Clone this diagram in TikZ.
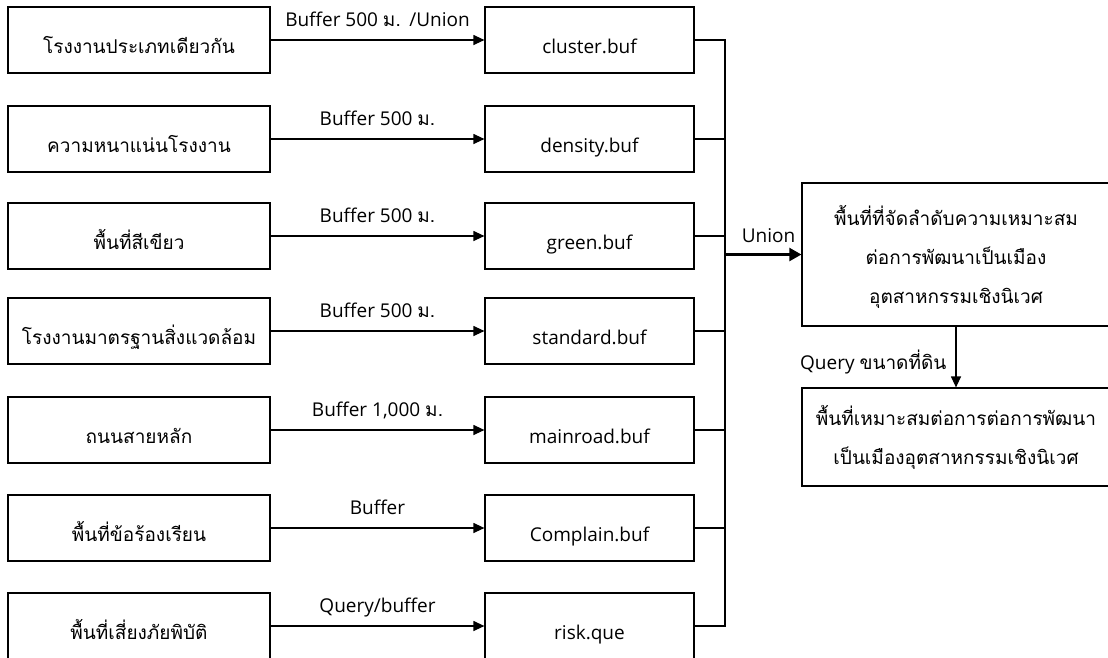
\documentclass[tikz,border=0pt]{standalone}
\usepackage{fontspec}
\setmainfont[Script=Thai]{Loma}
\newfontfamily\lat{Open Sans}
\usetikzlibrary{arrows.meta}

\begin{document}
\begin{tikzpicture}[x=1pt, y=-1pt,
  box/.style={draw, line width=1.2pt, minimum width=262pt, minimum height=66pt, inner sep=0pt, text height=30pt, text depth=4pt, font=\fontsize{19}{23}\selectfont},
  file/.style={box, minimum width=209pt},
  res/.style={draw, line width=1.2pt, minimum width=308pt, align=center, inner sep=0pt, font=\fontsize{19}{39}\selectfont},
  lbl/.style={font=\fontsize{19}{23}\selectfont, inner sep=0pt, text height=14pt, text depth=0pt},
  >={Triangle[length=11pt,width=10pt]}]
\useasboundingbox (0,0) rectangle (1108,657);

\node[box] (a1) at (139,40) {โรงงานประเภทเดียวกัน};
\node[box] (a2) at (139,139) {ความหนาแน่นโรงงาน};
\node[box] (a3) at (139,236) {พื้นที่สีเขียว};
\node[box] (a4) at (139,331) {โรงงานมาตรฐานสิ่งแวดล้อม};
\node[box] (a5) at (139,430) {ถนนสายหลัก};
\node[box] (a6) at (139,528) {พื้นที่ข้อร้องเรียน};
\node[box] (a7) at (139,626) {พื้นที่เสี่ยงภัยพิบัติ};

\node[file] (b1) at (589.5,40) {\lat cluster.buf};
\node[file] (b2) at (589.5,139) {\lat density.buf};
\node[file] (b3) at (589.5,236) {\lat green.buf};
\node[file] (b4) at (589.5,331) {\lat standard.buf};
\node[file] (b5) at (589.5,430) {\lat mainroad.buf};
\node[file] (b6) at (589.5,528) {\lat Complain.buf};
\node[file] (b7) at (589.5,626) {\lat risk.que};

\node[res, minimum height=143pt, text depth=-8pt] (c1) at (956,254.5) {พื้นที่ที่จัดลำดับความเหมาะสม\\ต่อการพัฒนาเป็นเมือง\\อุตสาหกรรมเชิงนิเวศ};
\node[res, minimum height=98pt] (c2) at (956,437) {พื้นที่เหมาะสมต่อการต่อการพัฒนา\\เป็นเมืองอุตสาหกรรมเชิงนิเวศ};

\coordinate (t) at (725,40);

\draw[->, line width=1.2pt] (a1) to node[above=12.5pt, lbl]{{\lat Buffer 500 }ม. {\lat /Union}} (b1);
\draw[->, line width=1.2pt] (a2) to node[above=12.5pt, lbl]{{\lat Buffer 500 }ม.} (b2);
\draw[->, line width=1.2pt] (a3) to node[above=12.5pt, lbl]{{\lat Buffer 500 }ม.} (b3);
\draw[->, line width=1.2pt] (a4) to node[above=12.5pt, lbl]{{\lat Buffer 500 }ม.} (b4);
\draw[->, line width=1.2pt] (a5) to node[above=12.5pt, lbl]{{\lat Buffer 1,000 }ม.} (b5);
\draw[->, line width=1.2pt] (a6) to node[above=12.5pt, lbl]{\lat Buffer} (b6);
\draw[->, line width=1.2pt] (a7) to node[above=12.5pt, lbl]{\lat Query/buffer} (b7);

\draw[line width=1.2pt] (b1.east) -- (b1.east -| t) -- (b7.east -| t) -- (b7.east);
\draw[line width=1.2pt] (b2.east) -- (b2.east -| t);
\draw[line width=1.2pt] (b3.east) -- (b3.east -| t);
\draw[line width=1.2pt] (b4.east) -- (b4.east -| t);
\draw[line width=1.2pt] (b5.east) -- (b5.east -| t);
\draw[line width=1.2pt] (b6.east) -- (b6.east -| t);

\draw[->, line width=2.2pt, >={Triangle[length=12pt,width=13pt]}] (c1.west -| t) to node[pos=1, anchor=base east, xshift=-5pt, yshift=12pt, lbl]{\lat Union} (c1.west);
\draw[->, line width=1.2pt] (c1.south) to node[pos=0.71, anchor=base east, xshift=-9pt, lbl]{{\lat Query }ขนาดที่ดิน} (c2.north);
\end{tikzpicture}
\end{document}
